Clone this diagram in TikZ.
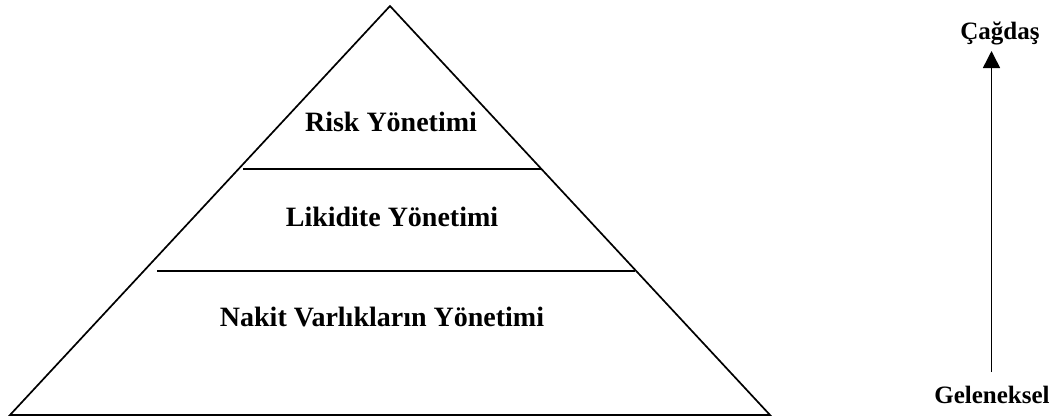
\documentclass[tikz,border=0pt]{standalone}
\usepackage{fontspec}
\setmainfont{Liberation Serif}
\usetikzlibrary{arrows.meta}
\begin{document}
\begin{tikzpicture}[x=1pt,y=-1pt,
  edge/.style={line width=1.7pt, line join=miter},
  level/.style={font=\fontsize{28}{30}\selectfont\bfseries, anchor=base},
  side/.style={font=\fontsize{25}{28}\selectfont\bfseries, anchor=base}]
\useasboundingbox (0,0) rectangle (1055,418);
% pyramid outline
\coordinate (apex) at (390,6);
\coordinate (bl) at (10,415);
\coordinate (br) at (770,415);
\draw[edge] (apex) -- (br) -- (bl) -- cycle;
% dividing lines between levels
\coordinate (d1l) at (243,169);
\coordinate (d1r) at (541,169);
\coordinate (d2l) at (157,271);
\coordinate (d2r) at (635,271);
\draw[edge] (d1l) -- (d1r);
\draw[edge] (d2l) -- (d2r);
% level labels
\node[level] (risk) at (391,131) {Risk Yönetimi};
\node[level] (likidite) at (392,226) {Likidite Yönetimi};
\node[level] (nakit) at (382,326) {Nakit Varlıkların Yönetimi};
% evolution arrow
\node[side] (top) at (1000,39) {Çağdaş};
\node[side] (bottom) at (992,403) {Geleneksel};
\coordinate (abot) at (991.5,372);
\coordinate (atop) at (991.5,51);
\draw[line width=1.5pt, -{Triangle[length=17pt,width=17pt]}] (abot) -- (atop);
\end{tikzpicture}
\end{document}
